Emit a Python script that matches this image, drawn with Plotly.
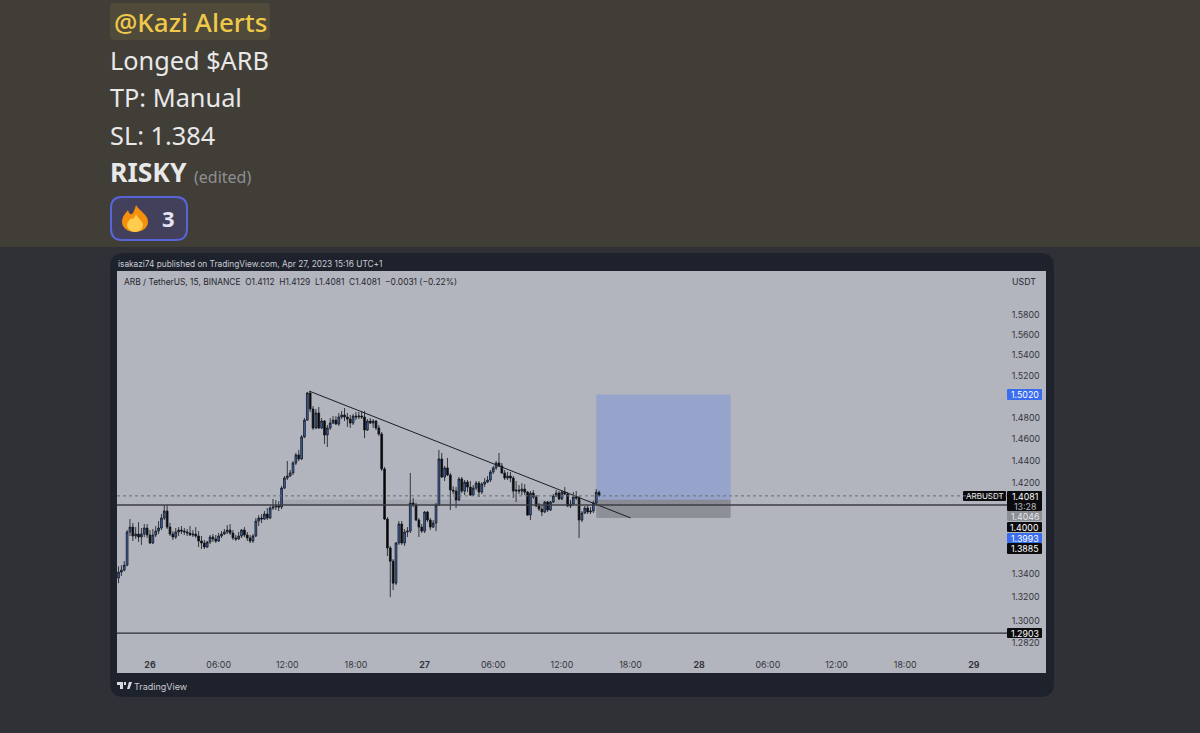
import pandas as pd
import plotly.graph_objects as go

W, H = 1200, 733

# ARBUSDT 15 min candles
first_bar = "2023-04-25 21:15"
opens = [
    1.3363,1.3414,1.3431,1.3473,1.3761,1.3804,1.3726,1.3743,1.3717,1.3743,
    1.3796,1.3735,1.3665,1.3735,1.3769,1.3796,1.3884,1.3946,1.3804,1.3743,
    1.3717,1.3761,1.3778,1.3769,1.3761,1.3752,1.3735,1.3743,1.3726,1.3682,
    1.3665,1.3630,1.3674,1.3717,1.3700,1.3682,1.3726,1.3743,1.3761,1.3778,
    1.3752,1.3709,1.3700,1.3726,1.3778,1.3735,1.3709,1.3682,1.3726,1.3857,
    1.3884,1.3875,1.3919,1.3884,1.3972,1.3981,1.3990,1.3981,1.4151,1.4242,
    1.4260,1.4288,1.4379,1.4453,1.4416,1.4619,1.4777,1.5034,1.4882,1.4703,
    1.4844,1.4703,1.4768,1.4637,1.4703,1.4749,1.4777,1.4740,1.4806,1.4825,
    1.4806,1.4787,1.4749,1.4815,1.4806,1.4815,1.4806,1.4684,1.4768,1.4749,
    1.4768,1.4703,1.4647,1.4324,1.3875,1.3622,1.3508,1.3320,1.3665,1.3831,
    1.3665,1.3761,1.3769,1.4017,1.3999,1.3866,1.3804,1.3769,1.3937,1.3866,
    1.3804,1.3840,1.3999,1.4416,1.4251,1.4334,1.4270,1.4133,1.4124,1.4044,
    1.4233,1.4124,1.4205,1.4160,1.4088,1.4151,1.4196,1.4115,1.4187,1.4205,
    1.4224,1.4297,1.4334,1.4379,1.4352,1.4288,1.4242,1.4260,1.4242,1.4124,
    1.4133,1.4124,1.4142,1.4115,1.3910,1.4106,1.4071,1.3990,1.3963,1.3937,
    1.4026,1.3955,1.4026,1.4080,1.4106,1.4053,1.4115,1.4097,1.3990,1.4008,
    1.4071,1.4062,1.3866,1.3928,1.3972,1.3937,1.3946,1.4017,1.4112,
]
closes = [
    1.3414,1.3431,1.3473,1.3761,1.3804,1.3726,1.3743,1.3717,1.3743,1.3796,
    1.3735,1.3665,1.3735,1.3769,1.3796,1.3884,1.3946,1.3804,1.3743,1.3717,
    1.3761,1.3778,1.3769,1.3761,1.3752,1.3735,1.3743,1.3726,1.3682,1.3665,
    1.3630,1.3674,1.3717,1.3700,1.3682,1.3726,1.3743,1.3761,1.3778,1.3752,
    1.3709,1.3700,1.3726,1.3778,1.3735,1.3709,1.3682,1.3726,1.3857,1.3884,
    1.3875,1.3919,1.3884,1.3972,1.3981,1.3990,1.3981,1.4151,1.4242,1.4260,
    1.4288,1.4379,1.4453,1.4416,1.4619,1.4777,1.5034,1.4882,1.4703,1.4844,
    1.4703,1.4768,1.4637,1.4703,1.4749,1.4777,1.4740,1.4806,1.4825,1.4806,
    1.4787,1.4749,1.4815,1.4806,1.4815,1.4806,1.4684,1.4768,1.4749,1.4768,
    1.4703,1.4647,1.4324,1.3875,1.3622,1.3508,1.3320,1.3665,1.3831,1.3665,
    1.3761,1.3769,1.4017,1.3999,1.3866,1.3804,1.3769,1.3937,1.3866,1.3804,
    1.3840,1.3999,1.4416,1.4251,1.4334,1.4270,1.4133,1.4124,1.4044,1.4233,
    1.4124,1.4205,1.4160,1.4088,1.4151,1.4196,1.4115,1.4187,1.4205,1.4224,
    1.4297,1.4334,1.4379,1.4352,1.4288,1.4242,1.4260,1.4242,1.4124,1.4133,
    1.4124,1.4142,1.4115,1.3910,1.4106,1.4071,1.3990,1.3963,1.3937,1.4026,
    1.3955,1.4026,1.4080,1.4106,1.4053,1.4115,1.4097,1.3990,1.4008,1.4071,
    1.4062,1.3866,1.3928,1.3972,1.3937,1.3946,1.4017,1.4115,1.4081,
]
highs = [
    1.3464,1.3473,1.3508,1.3778,1.3875,1.3840,1.3804,1.3848,1.3796,1.3831,
    1.3831,1.3778,1.3787,1.3813,1.3857,1.3919,1.3999,1.3999,1.3840,1.3769,
    1.3796,1.3804,1.3813,1.3796,1.3787,1.3813,1.3778,1.3804,1.3769,1.3726,
    1.3691,1.3682,1.3735,1.3743,1.3735,1.3752,1.3769,1.3787,1.3822,1.3831,
    1.3778,1.3735,1.3761,1.3787,1.3804,1.3761,1.3735,1.3743,1.3884,1.3910,
    1.3919,1.3946,1.3972,1.3990,1.4053,1.4044,1.4035,1.4169,1.4260,1.4397,
    1.4315,1.4397,1.4471,1.4499,1.4637,1.4796,1.5044,1.5053,1.4910,1.4882,
    1.4901,1.4796,1.4777,1.4731,1.4796,1.4815,1.4815,1.4844,1.4863,1.4891,
    1.4844,1.4825,1.4834,1.4853,1.4853,1.4863,1.4863,1.4787,1.4796,1.4787,
    1.4777,1.4731,1.4665,1.4343,1.3892,1.3639,1.3526,1.3674,1.3857,1.3857,
    1.3787,1.3804,1.4288,1.4062,1.4017,1.3884,1.3831,1.3946,1.3946,1.3884,
    1.3866,1.4017,1.4499,1.4471,1.4352,1.4425,1.4288,1.4169,1.4160,1.4251,
    1.4251,1.4224,1.4224,1.4215,1.4178,1.4215,1.4215,1.4205,1.4242,1.4260,
    1.4315,1.4352,1.4397,1.4471,1.4379,1.4315,1.4297,1.4297,1.4260,1.4215,
    1.4178,1.4196,1.4187,1.4124,1.4124,1.4133,1.4088,1.4017,1.3999,1.4035,
    1.4035,1.4035,1.4097,1.4133,1.4124,1.4133,1.4160,1.4115,1.4044,1.4115,
    1.4124,1.4080,1.3946,1.3990,1.3999,1.3981,1.4035,1.4142,1.4129,
]
lows = [
    1.3320,1.3380,1.3422,1.3464,1.3726,1.3682,1.3700,1.3674,1.3648,1.3717,
    1.3709,1.3656,1.3656,1.3717,1.3743,1.3778,1.3866,1.3787,1.3726,1.3691,
    1.3700,1.3726,1.3743,1.3735,1.3726,1.3726,1.3717,1.3709,1.3630,1.3613,
    1.3613,1.3622,1.3656,1.3674,1.3665,1.3674,1.3709,1.3735,1.3743,1.3735,
    1.3691,1.3682,1.3691,1.3709,1.3717,1.3682,1.3665,1.3665,1.3717,1.3813,
    1.3840,1.3866,1.3866,1.3875,1.3955,1.3955,1.3946,1.3963,1.4142,1.4224,
    1.4251,1.4270,1.4361,1.4397,1.4406,1.4609,1.4768,1.4853,1.4684,1.4693,
    1.4693,1.4693,1.4554,1.4526,1.4684,1.4740,1.4731,1.4721,1.4787,1.4768,
    1.4712,1.4703,1.4731,1.4777,1.4787,1.4787,1.4609,1.4675,1.4740,1.4703,
    1.4684,1.4628,1.4306,1.3866,1.3552,1.3202,1.3261,1.3303,1.3648,1.3648,
    1.3639,1.3717,1.3752,1.3981,1.3857,1.3717,1.3752,1.3752,1.3848,1.3778,
    1.3796,1.3769,1.3990,1.4242,1.4215,1.4260,1.3955,1.4097,1.3972,1.4035,
    1.4106,1.4088,1.4115,1.4080,1.4080,1.4133,1.4071,1.4097,1.4160,1.4196,
    1.4205,1.4279,1.4315,1.4343,1.4279,1.4224,1.4224,1.4205,1.4062,1.4026,
    1.4097,1.4088,1.4088,1.3901,1.3866,1.4053,1.3981,1.3946,1.3901,1.3928,
    1.3937,1.3946,1.4017,1.4071,1.4044,1.4044,1.4088,1.3981,1.3972,1.3999,
    1.4044,1.3709,1.3848,1.3919,1.3919,1.3919,1.3928,1.4008,1.4081,
]

price_ticks = [1.58, 1.56, 1.54, 1.52, 1.48, 1.46, 1.44, 1.42, 1.34, 1.32, 1.30, 1.282]
time_ticks = ["2023-04-26 00:00", "2023-04-26 06:00", "2023-04-26 12:00", "2023-04-26 18:00",
              "2023-04-27 00:00", "2023-04-27 06:00", "2023-04-27 12:00", "2023-04-27 18:00",
              "2023-04-28 00:00", "2023-04-28 06:00", "2023-04-28 12:00", "2023-04-28 18:00",
              "2023-04-29 00:00"]
time_labels = ["<b>26</b>", "06:00", "12:00", "18:00", "<b>27</b>", "06:00", "12:00", "18:00",
               "<b>28</b>", "06:00", "12:00", "18:00", "<b>29</b>"]

# drawn levels
target = 1.5020
entry = 1.4046
stop = 1.3885
support = 1.4000
low_line = 1.2903
last_close = 1.4081
box_start, box_end = "2023-04-27 15:00", "2023-04-28 02:45"
band_start = "2023-04-26 11:37"
trend_x = ["2023-04-26 13:54", "2023-04-27 18:00"]
trend_y = [1.5053, 1.3885]

# (label, top, bottom, left, right, fill, colour)
badges = [
    ("1.5020", 389, 400, 1007, 1042, "#3a6cf0", "#ffffff"),
    ("ARBUSDT", 491, 501, 963, 1006, "#0b0b0d", "#e6e6e8"),
    ("1.4046", 511, 521, 1007, 1042, "#8c8e95", "#e6e6e8"),
    ("1.4000", 522, 532, 1007, 1042, "#0b0b0d", "#ffffff"),
    ("1.3993", 533, 543, 1007, 1042, "#3a6cf0", "#ffffff"),
    ("1.3885", 543, 554, 1007, 1042, "#0b0b0d", "#ffffff"),
    ("1.2903", 628, 638, 1007, 1042, "#0b0b0d", "#ffffff"),
]


def fx(px):
    return px / W


def fy(py):
    return 1 - py / H


def round_rect(x0, y0, x1, y1, r):
    return (f"M{fx(x0 + r)},{fy(y0)} L{fx(x1 - r)},{fy(y0)} Q{fx(x1)},{fy(y0)} {fx(x1)},{fy(y0 + r)} "
            f"L{fx(x1)},{fy(y1 - r)} Q{fx(x1)},{fy(y1)} {fx(x1 - r)},{fy(y1)} "
            f"L{fx(x0 + r)},{fy(y1)} Q{fx(x0)},{fy(y1)} {fx(x0)},{fy(y1 - r)} "
            f"L{fx(x0)},{fy(y0 + r)} Q{fx(x0)},{fy(y0)} {fx(x0 + r)},{fy(y0)} Z")


def pixel_path(cmds):
    # cmds: list of (letter, x, y, x, y, ...) in pixels
    out = []
    for c in cmds:
        pts = " ".join(f"{fx(c[i])},{fy(c[i + 1])}" for i in range(1, len(c), 2))
        out.append(c[0] + pts)
    return " ".join(out) + " Z"


def paper_shape(path, fill, line=None, width=0):
    return dict(type="path", xref="paper", yref="paper", path=path, fillcolor=fill,
                line=dict(color=line or fill, width=width), layer="below")


def label(text, px, py, size, color, font="Inter", anchor="left", weight=None):
    return dict(text=text, x=fx(px), y=fy(py), xref="paper", yref="paper", showarrow=False,
                xanchor=anchor, yanchor="middle", align=anchor, borderpad=0,
                font=dict(family=font, size=size, color=color, weight=weight))


def main():
    bars = pd.date_range(first_bar, periods=len(closes), freq="15min")

    fig = go.Figure()
    fig.add_trace(go.Candlestick(
        x=bars, open=opens, high=highs, low=lows, close=closes,
        increasing=dict(fillcolor="#3d66b4", line=dict(color="#14161c", width=0.8)),
        decreasing=dict(fillcolor="#050505", line=dict(color="#14161c", width=0.8)),
        hoverinfo="skip",
    ))
    fig.add_trace(go.Scatter(x=trend_x, y=trend_y, mode="lines",
                             line=dict(color="#1c1e26", width=1), hoverinfo="skip"))

    shapes = [
        paper_shape(pixel_path([("M", 0, 0), ("L", W, 0), ("L", W, 247), ("L", 0, 247)]), "#413e38"),
        paper_shape(pixel_path([("M", 0, 247), ("L", W, 247), ("L", W, H), ("L", 0, H)]), "#2f3136"),
        paper_shape(round_rect(110, 253, 1054, 697, 14), "#1e222d"),
        paper_shape(pixel_path([("M", 117, 271), ("L", 1046, 271), ("L", 1046, 673), ("L", 117, 673)]), "#b2b5be"),
        paper_shape(round_rect(110, 3, 270, 40, 4), "#4f4a39"),
        paper_shape(round_rect(111, 197, 187, 240, 11), "#42405a", "#5865d8", 2),
        # flame
        paper_shape(pixel_path([("M", 136, 205), ("C", 140, 212, 148, 214, 148, 222), ("C", 148, 228, 142, 232, 135, 232),
                                ("C", 128, 232, 122, 228, 122, 222), ("C", 122, 216, 126, 213, 128, 210),
                                ("C", 129, 214, 131, 215, 132, 214), ("C", 134, 212, 135, 208, 136, 205)]), "#f4900c"),
        paper_shape(pixel_path([("M", 136, 214), ("C", 138, 219, 143, 221, 143, 225), ("C", 143, 229, 139, 232, 135, 232),
                                ("C", 131, 232, 127, 229, 127, 225), ("C", 127, 222, 130, 220, 131, 218),
                                ("C", 132, 220, 134, 219, 136, 214)]), "#ffcc4d"),
        # TradingView mark
        paper_shape(pixel_path([("M", 117, 682), ("L", 123, 682), ("L", 123, 689), ("L", 120, 689), ("L", 120, 685), ("L", 117, 685)]), "#d8dae0"),
        paper_shape(pixel_path([("M", 124, 682), ("L", 126, 682), ("L", 126, 685), ("L", 124, 685)]), "#d8dae0"),
        paper_shape(pixel_path([("M", 127, 689), ("L", 129, 682), ("L", 132, 682), ("L", 129.5, 689)]), "#d8dae0"),
        # position box
        dict(type="rect", xref="x", yref="y", x0=box_start, x1=box_end, y0=entry, y1=target,
             fillcolor="rgba(41,98,255,0.2)", line_width=0, layer="below"),
        dict(type="rect", xref="x", yref="y", x0=box_start, x1=box_end, y0=stop, y1=entry,
             fillcolor="rgba(0,0,0,0.2)", line_width=0, layer="below"),
        dict(type="rect", xref="x", yref="y", x0=band_start, x1=box_end, y0=support, y1=entry,
             fillcolor="rgba(120,123,134,0.25)", line_width=0, layer="below"),
        # levels
        dict(type="line", xref="x domain", yref="y", x0=0, x1=1, y0=support, y1=support,
             line=dict(color="#3c3e46", width=1.4)),
        dict(type="line", xref="x domain", yref="y", x0=0, x1=1, y0=low_line, y1=low_line,
             line=dict(color="#2c2e36", width=1.2)),
        dict(type="line", xref="x domain", yref="y", x0=0, x1=1, y0=last_close, y1=last_close,
             line=dict(color="#6a6c74", width=1, dash="dot")),
    ]
    annotations = [
        label("@Kazi Alerts", 113, 22, 26, "#f0c84a", "Noto Sans", weight=500),
        label("Longed $ARB", 109, 60, 25.3, "#e8e8e8", "Noto Sans"),
        label("TP: Manual", 109, 97, 25.3, "#e8e8e8", "Noto Sans"),
        label("SL: 1.384", 109, 135, 25.3, "#e8e8e8", "Noto Sans"),
        label("<b>RISKY</b>", 109, 172, 26.5, "#e8e8e8", "Noto Sans"),
        label("(edited)", 193, 177, 16, "#8e8f92", "Noto Sans"),
        label("<b>3</b>", 161, 218, 22, "#e4e4f4", "Noto Sans"),
        label("isakazi74 published on TradingView.com, Apr 27, 2023 15:16 UTC+1", 117, 264, 8.3, "#c9cbd2"),
        label("ARB / TetherUS, 15, BINANCE  O1.4112  H1.4129  L1.4081  C1.4081  −0.0031 (−0.22%)", 123, 282, 8.4, "#26282e"),
        label("USDT", 1024, 281, 8.8, "#26282e", anchor="center"),
        label("TradingView", 133, 686, 9, "#c9cbd2"),
        label("1.4081", 1025, 496, 8.8, "#ffffff", anchor="center"),
        label("13:28", 1025, 506, 8.8, "#b8bac0", anchor="center"),
    ]

    shapes.append(paper_shape(round_rect(1007, 491, 1042, 511, 1), "#0b0b0d"))
    for text, top, bottom, left, right, fill, colour in badges:
        shapes.append(paper_shape(round_rect(left, top, right, bottom, 1), fill))
        size = 8 if text == "ARBUSDT" else 8.8
        annotations.append(label(text, (left + right) / 2, (top + bottom) / 2, size, colour, anchor="center"))

    fig.update_layout(
        width=W,
        height=H,
        margin=dict(l=0, r=0, t=0, b=0),
        paper_bgcolor="#2f3136",
        plot_bgcolor="rgba(0,0,0,0)",
        showlegend=False,
        boxgap=0.12,
        font=dict(family="Inter", size=9, color="#33353c"),
        shapes=shapes,
        annotations=annotations,
        xaxis=dict(
            domain=[fx(117), fx(1007)],
            type="date",
            range=["2023-04-25 21:07", "2023-04-29 02:54"],
            rangeslider=dict(visible=False),
            tickmode="array",
            tickvals=time_ticks,
            ticktext=time_labels,
            showgrid=False,
            zeroline=False,
            ticks="outside",
            ticklen=3,
            tickcolor="rgba(0,0,0,0)",
            tickangle=0,
            tickfont=dict(family="Inter", size=8.8, color="#33353c"),
        ),
        yaxis=dict(
            domain=[fy(653), fy(271)],
            type="log",
            range=[0.1052, 0.2108],
            side="right",
            tickmode="array",
            tickvals=price_ticks,
            ticktext=[f"{p:.4f}" for p in price_ticks],
            showgrid=False,
            zeroline=False,
            ticks="outside",
            ticklen=2,
            tickcolor="rgba(0,0,0,0)",
            tickfont=dict(family="Inter", size=8.8, color="#33353c"),
        ),
    )

    fig.write_html("out.html", config=dict(displayModeBar=False),
                   post_script="document.body.style.margin='0';document.body.style.overflow='hidden';")


if __name__ == "__main__":
    main()
